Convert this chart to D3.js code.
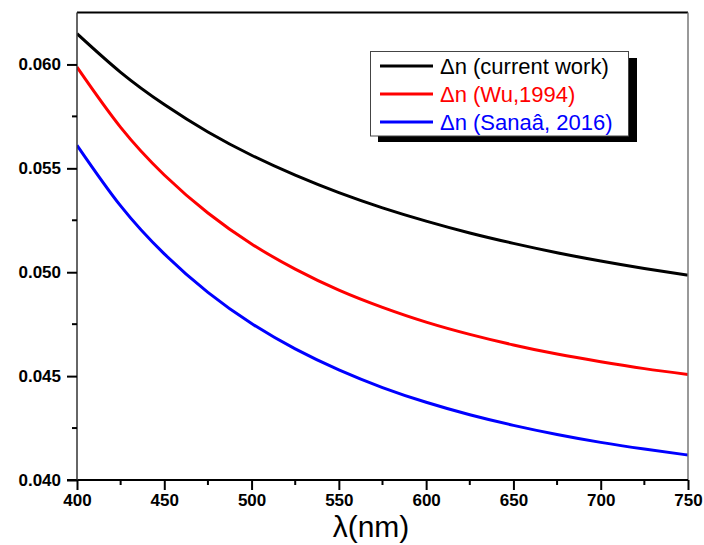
<!DOCTYPE html>
<html>
<head>
<meta charset="utf-8">
<script src="https://cdn.jsdelivr.net/npm/d3@7"></script>
<style>
  html, body { margin: 0; padding: 0; background: #fff; }
  svg { display: block; }
</style>
</head>
<body>
<svg id="chart" width="704" height="545"></svg>
<script>
const wavelengths = [400, 425, 450, 475, 500, 525, 550, 575, 600, 625, 650, 675, 700, 725, 750];
const currentWork = [0.06148, 0.05962, 0.05807, 0.05675, 0.05563, 0.05467, 0.05383, 0.05310, 0.05246, 0.05189, 0.05139, 0.05094, 0.05054, 0.05018, 0.04986];
const wu1994 = [0.05987, 0.05697, 0.05468, 0.05285, 0.05136, 0.05015, 0.04914, 0.04831, 0.04760, 0.04701, 0.04650, 0.04606, 0.04569, 0.04536, 0.04508];
const sanaa2016 = [0.05611, 0.05319, 0.05088, 0.04903, 0.04753, 0.04631, 0.04530, 0.04445, 0.04374, 0.04314, 0.04263, 0.04219, 0.04181, 0.04149, 0.04120];
const seriesNames = ["\u0394n (current work)", "\u0394n (Wu,1994)", "\u0394n (Sana\u00e2, 2016)"];
const seriesColors = ["#000000", "#ff0000", "#0000ff"];
const xTicks = [400, 450, 500, 550, 600, 650, 700, 750];
const yTicks = [0.040, 0.045, 0.050, 0.055, 0.060];
const xLabel = "\u03bb(nm)";

const svg = d3.select("#chart");
const L = 77, R = 688, T = 12.5, B = 480;
const x = d3.scaleLinear().domain([400, 750]).range([L, R]);
const y = d3.scaleLinear().domain([0.040, 0.0625]).range([B, T]);

const font = "'Liberation Sans', Arial, sans-serif";

// curves
const series = [currentWork, wu1994, sanaa2016];
const line = d3.line().x((d, i) => x(wavelengths[i])).y(d => y(d)).curve(d3.curveNatural);
svg.append("clipPath").attr("id", "clip").append("rect")
  .attr("x", L).attr("y", T).attr("width", R - L).attr("height", B - T);
svg.append("g").attr("clip-path", "url(#clip)")
  .selectAll("path").data(series).join("path")
  .attr("d", d => line(d))
  .attr("fill", "none")
  .attr("stroke", (d, i) => seriesColors[i])
  .attr("stroke-width", 3);

// frame
svg.append("line").attr("x1", L).attr("x2", R).attr("y1", T).attr("y2", T).attr("stroke", "#000").attr("stroke-width", 2);
svg.append("line").attr("x1", R).attr("x2", R).attr("y1", T).attr("y2", B).attr("stroke", "#777").attr("stroke-width", 1.5);

// x axis
const xMinor = d3.range(425, 750, 50);
const xAxis = svg.append("g").attr("transform", `translate(0,${B})`)
  .call(d3.axisBottom(x).tickValues(xTicks).tickSize(10).tickPadding(4).tickFormat(d3.format("d")));
xAxis.select(".domain").attr("stroke", "#000").attr("stroke-width", 2).attr("d", `M${L - 10},0H${R}`);
xAxis.selectAll(".tick line").attr("stroke-width", 2);
xAxis.selectAll(".tick text").attr("font-family", font).attr("font-size", 17).attr("font-weight", "bold").attr("fill", "#000");
xAxis.selectAll(".minor").data(xMinor).join("line").attr("class", "minor")
  .attr("x1", d => x(d)).attr("x2", d => x(d)).attr("y1", 0).attr("y2", 5)
  .attr("stroke", "#000").attr("stroke-width", 2);

// y axis
const yMinor = [0.0425, 0.0475, 0.0525, 0.0575, 0.0625];
const yAxis = svg.append("g").attr("transform", `translate(${L},0)`)
  .call(d3.axisLeft(y).tickValues(yTicks).tickSize(10).tickPadding(6).tickFormat(d3.format(".3f")));
yAxis.select(".domain").attr("stroke", "#333").attr("stroke-width", 1.5).attr("d", `M0,${B}V${T}`);
yAxis.selectAll(".tick line").attr("stroke-width", 2);
yAxis.selectAll(".tick text").attr("font-family", font).attr("font-size", 17).attr("font-weight", "bold").attr("fill", "#000");
yAxis.selectAll(".minor").data(yMinor.filter(v => y(v) > T + 2)).join("line").attr("class", "minor")
  .attr("x1", -5).attr("x2", 0).attr("y1", d => y(d)).attr("y2", d => y(d))
  .attr("stroke", "#000").attr("stroke-width", 2);

// x label
svg.append("text").attr("x", 371).attr("y", 537).attr("text-anchor", "middle")
  .attr("font-family", font).attr("font-size", 30).attr("fill", "#000").text(xLabel);

// legend
const lg = svg.append("g");
lg.append("rect").attr("x", 378).attr("y", 58).attr("width", 259).attr("height", 84).attr("fill", "#000");
lg.append("rect").attr("x", 370.5).attr("y", 51.5).attr("width", 258).attr("height", 84.5)
  .attr("fill", "#fff").attr("stroke", "#444").attr("stroke-width", 1);
const rowY = [66, 94, 122];
seriesNames.forEach((name, i) => {
  lg.append("line").attr("x1", 380).attr("x2", 433).attr("y1", rowY[i]).attr("y2", rowY[i])
    .attr("stroke", seriesColors[i]).attr("stroke-width", 3);
  lg.append("text").attr("x", 440).attr("y", rowY[i]).attr("dy", "0.35em")
    .attr("font-family", font).attr("font-size", 22).attr("fill", seriesColors[i]).text(name);
});
</script>
</body>
</html>
